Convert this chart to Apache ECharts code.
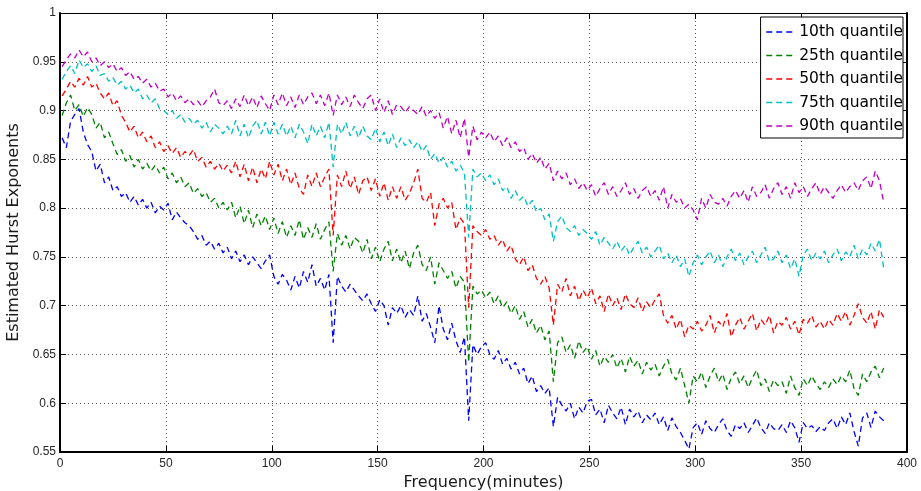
<!DOCTYPE html>
<html>
<head>
<meta charset="utf-8">
<script src="https://cdn.jsdelivr.net/npm/echarts@6/dist/echarts.min.js"></script>
<style>
  html, body { margin: 0; padding: 0; background: #fff; }
  #chart { width: 921px; height: 491px; }
</style>
</head>
<body>
<div id="chart"></div>
<script>
// sampled every 2 minutes, 1..389
const minutes = Array.from({ length: 195 }, (_, i) => 1 + 2 * i);

const seriesNames = ["10th quantile", "25th quantile", "50th quantile", "75th quantile", "90th quantile"];
const seriesColors = ["#0000ff", "#008000", "#ff0000", "#00bfbf", "#bf00bf"];

const q10 = [
  0.872, 0.862, 0.889, 0.896, 0.902, 0.878, 0.865, 0.858, 0.838, 0.845,
  0.826, 0.832, 0.818, 0.822, 0.812, 0.816, 0.806, 0.812, 0.803, 0.809,
  0.800, 0.806, 0.795, 0.802, 0.798, 0.805, 0.788, 0.796, 0.790, 0.785,
  0.782, 0.776, 0.768, 0.772, 0.762, 0.766, 0.758, 0.764, 0.754, 0.760,
  0.748, 0.756, 0.745, 0.752, 0.742, 0.750, 0.744, 0.738, 0.746, 0.752,
  0.730, 0.722, 0.732, 0.726, 0.716, 0.730, 0.718, 0.735, 0.724, 0.742,
  0.720, 0.728, 0.716, 0.732, 0.662, 0.730, 0.720, 0.714, 0.722, 0.716,
  0.710, 0.705, 0.712, 0.702, 0.694, 0.706, 0.700, 0.680, 0.698, 0.692,
  0.700, 0.688, 0.696, 0.690, 0.710, 0.684, 0.692, 0.678, 0.662, 0.700,
  0.676, 0.665, 0.682, 0.664, 0.652, 0.668, 0.582, 0.660, 0.650, 0.658,
  0.662, 0.650, 0.645, 0.654, 0.640, 0.646, 0.635, 0.642, 0.630, 0.636,
  0.620, 0.628, 0.612, 0.618, 0.610, 0.616, 0.576, 0.606, 0.598, 0.592,
  0.600, 0.584, 0.596, 0.590, 0.602, 0.604, 0.588, 0.594, 0.580, 0.598,
  0.590, 0.584, 0.596, 0.578, 0.594, 0.586, 0.592, 0.580, 0.588, 0.583,
  0.590, 0.578, 0.586, 0.572, 0.585, 0.576, 0.570, 0.562, 0.553, 0.575,
  0.580, 0.568, 0.582, 0.574, 0.570, 0.578, 0.584, 0.572, 0.566, 0.578,
  0.574, 0.580, 0.570, 0.577, 0.585, 0.575, 0.569, 0.580, 0.574, 0.572,
  0.578, 0.570, 0.582, 0.575, 0.560, 0.580, 0.574, 0.577, 0.571, 0.576,
  0.572, 0.580, 0.584, 0.574, 0.586, 0.578, 0.590, 0.571, 0.556, 0.585,
  0.590, 0.575, 0.592, 0.586, 0.582
];

const q25 = [
  0.895, 0.908, 0.916, 0.900, 0.906, 0.894, 0.903, 0.896, 0.882, 0.888,
  0.872, 0.878, 0.866, 0.855, 0.860, 0.848, 0.854, 0.842, 0.850, 0.840,
  0.846, 0.838, 0.844, 0.836, 0.842, 0.830, 0.836, 0.826, 0.832, 0.822,
  0.826, 0.815, 0.820, 0.812, 0.816, 0.806, 0.810, 0.800, 0.806, 0.798,
  0.806, 0.790, 0.802, 0.784, 0.798, 0.780, 0.794, 0.782, 0.792, 0.778,
  0.790, 0.774, 0.786, 0.770, 0.782, 0.772, 0.788, 0.768, 0.780, 0.770,
  0.784, 0.768, 0.778, 0.786, 0.735, 0.774, 0.762, 0.772, 0.758, 0.770,
  0.766, 0.754, 0.768, 0.748, 0.760, 0.745, 0.758, 0.766, 0.746, 0.758,
  0.744, 0.756, 0.738, 0.754, 0.762, 0.742, 0.736, 0.750, 0.722, 0.744,
  0.736, 0.728, 0.735, 0.718, 0.730, 0.724, 0.642, 0.720, 0.712, 0.716,
  0.708, 0.714, 0.702, 0.710, 0.698, 0.704, 0.692, 0.700, 0.686, 0.694,
  0.678, 0.686, 0.672, 0.680, 0.665, 0.674, 0.622, 0.662, 0.668, 0.652,
  0.660, 0.646, 0.664, 0.652, 0.658, 0.645, 0.654, 0.638, 0.648, 0.642,
  0.650, 0.636, 0.646, 0.632, 0.648, 0.638, 0.644, 0.630, 0.642, 0.634,
  0.640, 0.628, 0.638, 0.645, 0.630, 0.624, 0.636, 0.618, 0.600, 0.628,
  0.622, 0.632, 0.616, 0.628, 0.636, 0.622, 0.630, 0.614, 0.626, 0.632,
  0.620, 0.628, 0.616, 0.626, 0.634, 0.618, 0.625, 0.612, 0.624, 0.618,
  0.622, 0.610, 0.628, 0.616, 0.608, 0.625, 0.618, 0.628, 0.620, 0.614,
  0.622, 0.616, 0.625, 0.619, 0.628, 0.622, 0.634, 0.615, 0.608, 0.630,
  0.622, 0.632, 0.638, 0.626, 0.636
];

const q50 = [
  0.915, 0.922, 0.930, 0.924, 0.933, 0.926, 0.935, 0.924, 0.928, 0.918,
  0.912, 0.918, 0.905, 0.910, 0.895, 0.888, 0.878, 0.884, 0.872, 0.878,
  0.868, 0.874, 0.862, 0.868, 0.858, 0.864, 0.856, 0.862, 0.852, 0.858,
  0.854, 0.860, 0.848, 0.852, 0.842, 0.848, 0.840, 0.846, 0.838, 0.844,
  0.836, 0.848, 0.832, 0.845, 0.828, 0.842, 0.826, 0.840, 0.830, 0.848,
  0.834, 0.845, 0.828, 0.840, 0.824, 0.836, 0.820, 0.814, 0.834, 0.822,
  0.836, 0.822, 0.832, 0.840, 0.772, 0.834, 0.822, 0.838, 0.820, 0.832,
  0.814, 0.828, 0.832, 0.818, 0.830, 0.812, 0.826, 0.808, 0.822, 0.810,
  0.822, 0.808, 0.815, 0.826, 0.840, 0.810, 0.806, 0.816, 0.782, 0.804,
  0.810, 0.800, 0.806, 0.778, 0.790, 0.784, 0.698, 0.782, 0.776, 0.772,
  0.778, 0.768, 0.772, 0.762, 0.768, 0.756, 0.762, 0.748, 0.742, 0.750,
  0.736, 0.742, 0.728, 0.722, 0.730, 0.718, 0.680, 0.722, 0.714, 0.728,
  0.710, 0.720, 0.705, 0.716, 0.708, 0.718, 0.702, 0.710, 0.694, 0.712,
  0.700, 0.708, 0.696, 0.712, 0.702, 0.698, 0.708, 0.694, 0.704, 0.698,
  0.706, 0.712, 0.690, 0.682, 0.690, 0.676, 0.686, 0.668, 0.680, 0.676,
  0.684, 0.674, 0.680, 0.690, 0.672, 0.684, 0.678, 0.692, 0.668, 0.680,
  0.688, 0.676, 0.684, 0.692, 0.674, 0.686, 0.680, 0.690, 0.672, 0.684,
  0.680, 0.688, 0.676, 0.684, 0.670, 0.686, 0.682, 0.690, 0.678, 0.684,
  0.676, 0.686, 0.680, 0.692, 0.684, 0.694, 0.680, 0.690, 0.702, 0.688,
  0.682, 0.694, 0.676, 0.696, 0.688
];

const q75 = [
  0.932, 0.940, 0.946, 0.938, 0.952, 0.944, 0.948, 0.940, 0.946, 0.936,
  0.938, 0.930, 0.934, 0.926, 0.930, 0.922, 0.926, 0.918, 0.922, 0.912,
  0.916, 0.908, 0.912, 0.902, 0.900, 0.896, 0.900, 0.892, 0.896, 0.888,
  0.892, 0.886, 0.890, 0.882, 0.888, 0.878, 0.886, 0.882, 0.876, 0.884,
  0.876, 0.890, 0.874, 0.886, 0.872, 0.884, 0.890, 0.876, 0.888, 0.874,
  0.888, 0.876, 0.886, 0.874, 0.884, 0.872, 0.886, 0.878, 0.866, 0.886,
  0.874, 0.884, 0.872, 0.888, 0.842, 0.886, 0.876, 0.888, 0.874, 0.884,
  0.872, 0.884, 0.874, 0.870, 0.882, 0.868, 0.878, 0.864, 0.876, 0.862,
  0.872, 0.864, 0.870, 0.862, 0.868, 0.858, 0.864, 0.850, 0.856, 0.846,
  0.852, 0.842, 0.848, 0.838, 0.844, 0.836, 0.770, 0.840, 0.832, 0.836,
  0.828, 0.834, 0.824, 0.830, 0.818, 0.822, 0.810, 0.818, 0.808, 0.812,
  0.802, 0.808, 0.796, 0.800, 0.788, 0.794, 0.766, 0.786, 0.792, 0.780,
  0.776, 0.782, 0.772, 0.778, 0.774, 0.768, 0.776, 0.762, 0.770, 0.764,
  0.758, 0.766, 0.756, 0.762, 0.752, 0.760, 0.766, 0.754, 0.760, 0.750,
  0.756, 0.762, 0.748, 0.754, 0.744, 0.752, 0.740, 0.748, 0.730, 0.744,
  0.752, 0.742, 0.750, 0.756, 0.744, 0.752, 0.740, 0.750, 0.758, 0.746,
  0.754, 0.742, 0.750, 0.756, 0.744, 0.752, 0.760, 0.745, 0.748, 0.756,
  0.744, 0.752, 0.738, 0.748, 0.730, 0.752, 0.758, 0.746, 0.754, 0.748,
  0.756, 0.744, 0.752, 0.758, 0.746, 0.755, 0.750, 0.762, 0.748, 0.758,
  0.752, 0.764, 0.756, 0.768, 0.738
];

const q90 = [
  0.945, 0.952, 0.958, 0.954, 0.962, 0.955, 0.960, 0.950, 0.954, 0.946,
  0.950, 0.944, 0.948, 0.940, 0.944, 0.936, 0.940, 0.932, 0.935, 0.928,
  0.932, 0.924, 0.928, 0.920, 0.922, 0.914, 0.918, 0.910, 0.915, 0.908,
  0.912, 0.906, 0.910, 0.904, 0.910, 0.914, 0.922, 0.908, 0.905, 0.910,
  0.902, 0.912, 0.904, 0.916, 0.905, 0.914, 0.903, 0.915, 0.907, 0.900,
  0.916, 0.906, 0.918, 0.905, 0.914, 0.903, 0.916, 0.906, 0.914, 0.918,
  0.907, 0.916, 0.905, 0.918, 0.895, 0.916, 0.906, 0.914, 0.904, 0.916,
  0.908, 0.902, 0.912, 0.916, 0.900, 0.912, 0.898, 0.910, 0.896, 0.906,
  0.904, 0.898, 0.904, 0.900, 0.896, 0.904, 0.894, 0.900, 0.892, 0.898,
  0.882, 0.894, 0.876, 0.890, 0.872, 0.892, 0.852, 0.884, 0.870, 0.878,
  0.872, 0.878, 0.868, 0.874, 0.864, 0.872, 0.862, 0.868, 0.858, 0.862,
  0.850, 0.856, 0.846, 0.852, 0.840, 0.846, 0.828, 0.838, 0.830, 0.836,
  0.824, 0.830, 0.820, 0.826, 0.818, 0.824, 0.812, 0.820, 0.826, 0.814,
  0.822, 0.812, 0.818, 0.826, 0.814, 0.820, 0.810, 0.818, 0.822, 0.812,
  0.818, 0.808, 0.822, 0.800, 0.814, 0.806, 0.810, 0.800, 0.804, 0.798,
  0.788, 0.810, 0.800, 0.814, 0.806, 0.804, 0.810, 0.802, 0.812, 0.818,
  0.810, 0.818, 0.806, 0.822, 0.812, 0.816, 0.824, 0.810, 0.820, 0.826,
  0.814, 0.822, 0.810, 0.826, 0.816, 0.822, 0.812, 0.820, 0.826, 0.814,
  0.822, 0.816, 0.810, 0.818, 0.824, 0.816, 0.822, 0.826, 0.818, 0.828,
  0.832, 0.820, 0.838, 0.828, 0.806
];

const xTicks = [0, 400, 50];      // min, max, step
const yTicks = [0.55, 1, 0.05];

const chart = echarts.init(document.getElementById("chart"), null, { renderer: "canvas" });

const tickFont = { fontFamily: "Liberation Sans", fontSize: 12, color: "#262626" };
const frameAxis = (extra) => ({
  axisLine: { show: true, onZero: false, lineStyle: { color: "#000", width: 1.5 } },
  axisTick: { show: true, inside: true, length: 6, lineStyle: { color: "#000", width: 1 } },
  ...extra,
});

const option = {
  backgroundColor: "#fff",
  animation: false,
  grid: { left: 60, right: 14, top: 13, bottom: 39, containLabel: false, outerBoundsMode: "none" },
  legend: {
    orient: "vertical",
    right: 18,
    top: 17,
    padding: [7, 0, 4, 5],
    itemWidth: 28,
    itemHeight: 16,
    itemGap: 7.5,
    backgroundColor: "#fff",
    borderColor: "#000",
    borderWidth: 1,
    borderRadius: 0,
    itemStyle: { opacity: 0 },
    lineStyle: { width: 1.3, type: [6, 4] },
    textStyle: { fontFamily: "DejaVu Sans", fontSize: 15.5, color: "#000", lineHeight: 16 },
    data: seriesNames,
  },
  xAxis: [
    frameAxis({
      type: "value", min: xTicks[0], max: xTicks[1], interval: xTicks[2], position: "bottom",
      axisLine: { show: true, onZero: false, lineStyle: { color: "#000", width: 2 } },
      axisLabel: { ...tickFont, margin: 6 },
      splitLine: { show: true, lineStyle: { color: "#555", type: [1, 3], width: 1 } },
      name: "Frequency(minutes)", nameLocation: "middle", nameGap: 13,
      nameTextStyle: { fontFamily: "DejaVu Sans", fontSize: 16, color: "#1a1a1a" },
    }),
    frameAxis({
      type: "value", min: xTicks[0], max: xTicks[1], interval: xTicks[2], position: "top",
      axisLine: { show: true, onZero: false, lineStyle: { color: "#000", width: 1 } },
      axisLabel: { show: false }, splitLine: { show: false },
    }),
  ],
  yAxis: [
    frameAxis({
      type: "value", min: yTicks[0], max: yTicks[1], interval: yTicks[2], position: "left",
      axisLine: { show: true, onZero: false, lineStyle: { color: "#000", width: 2 } },
      axisLabel: { ...tickFont, margin: 4, formatter: (v) => String(+v.toFixed(2)) },
      splitLine: { show: true, lineStyle: { color: "#555", type: [1, 3], width: 1 } },
      name: "Estimated Hurst Exponents", nameLocation: "middle", nameGap: 30,
      nameTextStyle: { fontFamily: "DejaVu Sans", fontSize: 16, color: "#1a1a1a" },
    }),
    frameAxis({
      type: "value", min: yTicks[0], max: yTicks[1], interval: yTicks[2], position: "right",
      axisLine: { show: true, onZero: false, lineStyle: { color: "#000", width: 2 } },
      axisLabel: { show: false }, splitLine: { show: false },
    }),
  ],
  series: [q10, q25, q50, q75, q90].map((vals, i) => ({
    name: seriesNames[i],
    type: "line",
    xAxisIndex: 0,
    yAxisIndex: 0,
    symbol: "none",
    showSymbol: false,
    smooth: false,
    z: 2 + i,
    color: seriesColors[i],
    lineStyle: { color: seriesColors[i], width: 1.3, type: [6, 4] },
    data: vals.map((v, j) => [minutes[j], v]),
  })),
};

chart.setOption(option);
</script>
</body>
</html>
